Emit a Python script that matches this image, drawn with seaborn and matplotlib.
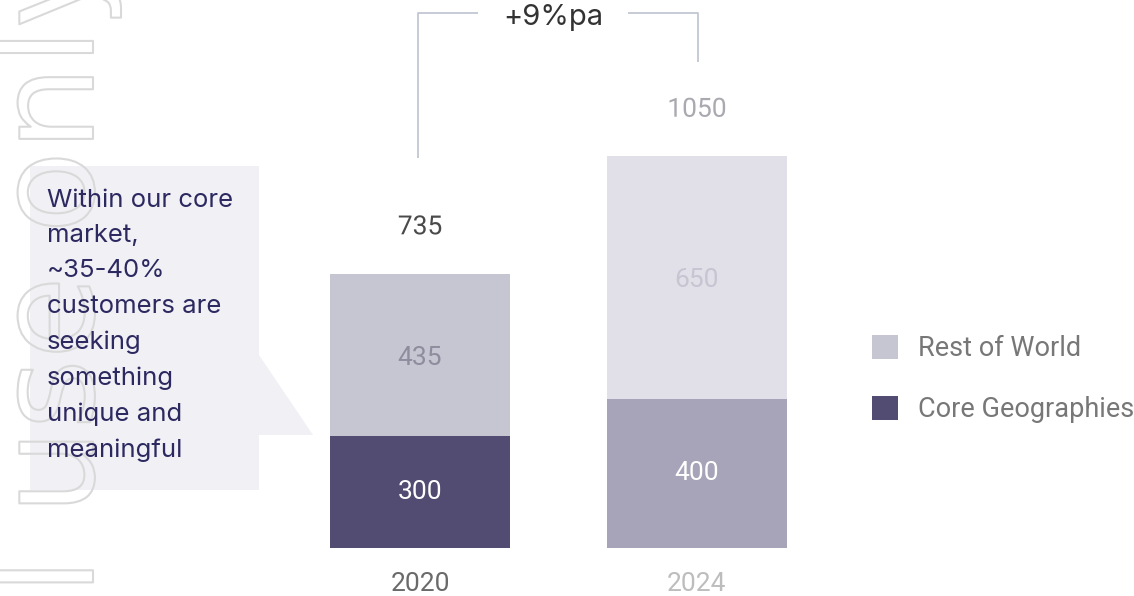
import matplotlib
matplotlib.use("Agg")
import matplotlib.pyplot as plt
import seaborn as sns
import pandas as pd
from matplotlib.patches import Patch, Polygon
from matplotlib import patheffects as pe

# ---- data ----
years = ["2020", "2024"]
core = [300, 400]
rest = [435, 650]
totals = [735, 1050]
series_names = ["Rest of World", "Core Geographies"]
growth_label = "+9%pa"
callout_text = "Within our core\nmarket,\n~35-40%\ncustomers are\nseeking\nsomething\nunique and\nmeaningful"
watermark = "Internal use only"

# ---- styles ----
rest_colors = ["#C6C6D3", "#E1E0E8"]
core_colors = ["#524C72", "#A7A3B8"]
core_label_colors = ["#FFFFFF", "#FFFFFF"]
rest_label_colors = ["#8E8D9E", "#C6C5D2"]
total_label_colors = ["#4A4A4A", "#A9A9B0"]
tick_colors = ["#6A6A6A", "#BDBDBD"]

df = pd.DataFrame({"year": years, "core": core, "rest": rest, "total": totals})

sns.set_theme(style="white")
plt.rcParams["font.family"] = ["Roboto", "DejaVu Sans"]

W, H = 1134, 596
fig = plt.figure(figsize=(W / 100, H / 100), dpi=100)
fig.patch.set_facecolor("white")

px_per_unit = 112 / 300
ymax = 1400
ax = fig.add_axes([0, 48 / H, 1, ymax * px_per_unit / H])
ax.patch.set_visible(False)

sns.barplot(data=df, x="year", y="total", hue="year", palette=rest_colors,
            width=0.65, legend=False, ax=ax, saturation=1, linewidth=0)
sns.barplot(data=df, x="year", y="core", hue="year", palette=core_colors,
            width=0.65, legend=False, ax=ax, saturation=1, linewidth=0)

ax.set_ylim(0, ymax)
ax.set_xlim(-420 / 277, (W - 420) / 277)
ax.set_xlabel("")
ax.set_ylabel("")
ax.set_yticks([])
for s in ax.spines.values():
    s.set_visible(False)
ax.tick_params(axis="x", length=0, pad=17, labelsize=19)
for lbl, c in zip(ax.get_xticklabels(), tick_colors):
    lbl.set_color(c)
    lbl.set_fontfamily("Roboto")

# value labels
for i in range(len(years)):
    ax.text(i, core[i] / 2, str(core[i]), ha="center", va="center",
            fontsize=19, color=core_label_colors[i])
    ax.text(i, core[i] + rest[i] / 2 - 8, str(rest[i]), ha="center", va="center",
            fontsize=19, color=rest_label_colors[i])
    ax.text(i, totals[i] + 124, str(totals[i]), ha="center", va="center",
            fontsize=19, color=total_label_colors[i],
            path_effects=[pe.withStroke(linewidth=3, foreground="white")])

# growth bracket
bc = "#C3C7D2"
top = 1433
ax.plot([-0.007, -0.007, 0.209], [totals[0] + 310, top, top], color=bc,
        lw=1.3, clip_on=False, solid_capstyle="butt")
ax.plot([0.751, 1.004, 1.004], [top, top, totals[1] + 252], color=bc,
        lw=1.3, clip_on=False, solid_capstyle="butt")
ax.text(0.48, 1401, growth_label, ha="center", va="baseline", fontsize=21,
        color="#333333", fontfamily="Inter", clip_on=False)

# callout box
def fp(x, y):
    return (x / W, 1 - y / H)

pts = [fp(30, 166), fp(259, 166), fp(259, 355), fp(313, 435), fp(259, 435),
       fp(259, 490), fp(30, 490)]
fig.patches.append(Polygon(pts, closed=True, transform=fig.transFigure,
                           facecolor="#F1F0F5", edgecolor="none", zorder=1))

# watermark (outlined text)
fig.text(93 / W, (H + 52) / H, watermark, rotation=90, rotation_mode="anchor",
         ha="right", va="baseline", fontsize=97, fontfamily="DejaVu Sans",
         color="none", zorder=2,
         path_effects=[pe.Stroke(linewidth=1.5, foreground="#D9D9D9")])

fig.text(47 / W, 1 - 189 / H, callout_text, ha="left", va="top",
         fontsize=18.5, color="#2C2960", fontfamily="Inter",
         linespacing=1.68, zorder=3)

# legend
handles = [Patch(facecolor=rest_colors[0], edgecolor="none"),
           Patch(facecolor=core_colors[0], edgecolor="none")]
leg = fig.legend(handles, series_names, loc="center left",
                 bbox_to_anchor=(872 / W, 1 - 379 / H), frameon=False,
                 fontsize=19.5, handlelength=0.95, handleheight=1.0,
                 handletextpad=0.75, labelspacing=1.25, borderpad=0,
                 borderaxespad=0)
for t in leg.get_texts():
    t.set_color("#777777")

fig.savefig("out.png", dpi=100, facecolor="white")
